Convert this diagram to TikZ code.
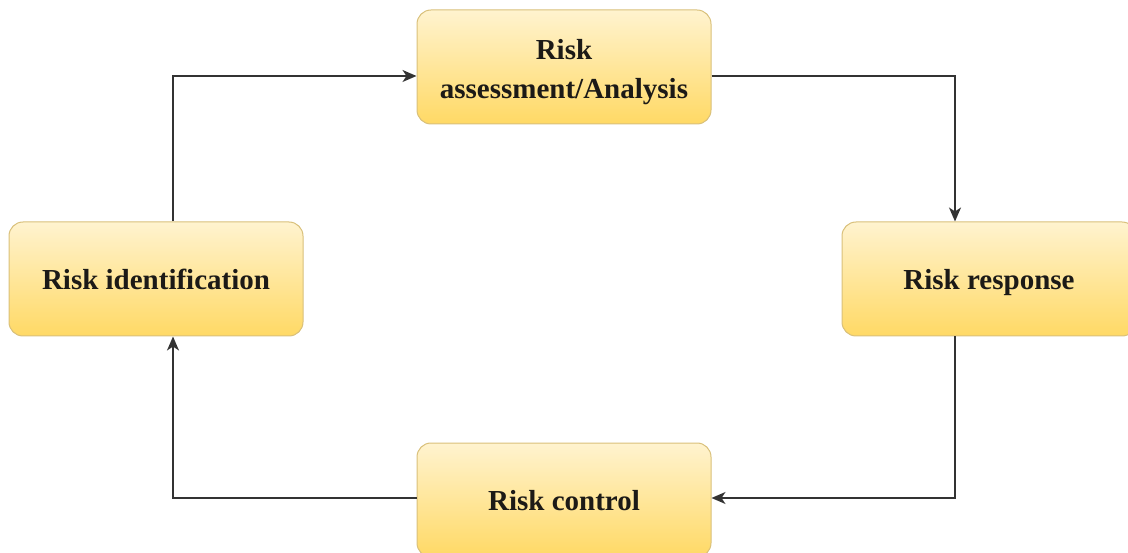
\documentclass[tikz,border=0pt]{standalone}
\usepackage{fontspec}
\setmainfont{Liberation Serif}
\usetikzlibrary{arrows.meta,calc}
\definecolor{boxtop}{HTML}{FFF3CF}
\definecolor{boxbot}{HTML}{FFD965}
\definecolor{boxline}{HTML}{D9C07A}
\definecolor{linec}{HTML}{333333}
\definecolor{textc}{HTML}{1C1A17}
\begin{document}
\begin{tikzpicture}[x=1pt,y=-1pt,
  stage/.style={draw=boxline, line width=1pt, rounded corners=14pt,
    top color=boxtop, bottom color=boxbot,
    minimum width=294pt, minimum height=114pt, inner sep=0pt,
    align=center, text=textc,
    font=\fontsize{29}{39}\selectfont\bfseries},
  oneline/.style={text height=22pt, text depth=1pt},
  link/.style={draw=linec, line width=1.5pt,
    -{Stealth[length=14pt,width=12pt,inset=4pt]}}]
  \useasboundingbox (0,0) rectangle (1128,553);

  % process stages
  \node[stage] (assess) at (564,67) {};
  \node[font=\fontsize{29}{39}\selectfont\bfseries, text=textc, align=center]
    (assesslabel) at (564,72) {Risk\\assessment/Analysis};
  \node[stage, oneline] (ident) at (156,279) {Risk identification};
  \node[stage, oneline] (resp)  at (989,279) {Risk response};
  \node[stage, oneline] (ctrl)  at (564,500) {Risk control};

  % bend points of the cycle
  \coordinate (c1) at (173,76);
  \coordinate (c2) at (955,76);
  \coordinate (c3) at (955,498);
  \coordinate (c4) at (173,498);

  % cycle connectors
  \draw[link] (ident.north -| c1) -- (c1) -- (assess.west |- c1);
  \draw[link] (assess.east |- c2) -- (c2) -- (resp.north -| c2);
  \draw[link] (resp.south -| c3) -- (c3) -- (ctrl.east |- c3);
  \draw[link] (ctrl.west |- c4) -- (c4) -- (ident.south -| c4);
\end{tikzpicture}
\end{document}
